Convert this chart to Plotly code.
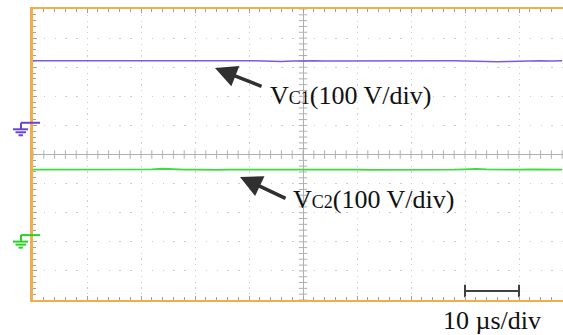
import plotly.graph_objects as go

# ---------------- data ----------------
# time axis in microseconds relative to screen centre (10 us/div)
time_us = list(range(-50, 50, 2))

# capacitor voltages (V)
vc1_volts = [213.0, 213.0, 212.0, 211.5, 211.0, 210.5, 211.0, 212.0, 213.0, 213.0,
             212.0, 212.0, 213.0, 212.0, 211.0, 211.0, 210.5, 211.0, 212.0, 213.0,
             213.5, 212.0, 211.0, 211.0, 212.0, 213.0, 213.0, 212.0, 212.0, 211.0,
             210.5, 211.0, 212.0, 213.0, 212.0, 212.0, 211.0, 212.0, 213.0, 213.5,
             212.0, 211.0, 210.5, 210.0, 211.0, 212.0, 213.0, 213.0, 212.0, 213.0]
vc2_volts = [225.0, 225.0, 225.5, 225.0, 225.0, 226.0, 226.0, 227.0, 226.0, 225.0,
             225.0, 226.0, 228.0, 226.0, 225.0, 225.0, 224.0, 224.0, 225.0, 225.0,
             226.0, 225.0, 225.0, 226.0, 226.0, 225.0, 226.0, 227.5, 226.0, 225.0,
             225.0, 224.0, 224.0, 225.0, 225.0, 224.0, 223.0, 224.0, 225.0, 225.0,
             226.0, 227.5, 226.0, 225.0, 225.0, 225.0, 226.0, 226.0, 225.0, 225.0]

volts_per_div = 100
ch1_ground_div = 1.09     # channel-1 ground marker position (div)
ch2_ground_div = -2.77    # channel-2 ground marker position (div)

scale_bar_us = [30, 40]   # one division = 10 us
scale_bar_div = -4.69

labels = ["V<span style='font-size:18px'>C1</span>(100 V/div)",
          "V<span style='font-size:18px'>C2</span>(100 V/div)"]
time_label = "10 µs/div"

# ---------------- figure ----------------
W, H = 563, 335
ML, MR, MT, MB = 33, 0, 9, 35
PW, PH = W - ML - MR, H - MT - MB
XR = [-50, -50 + PW / 54 * 10]

ch1_y = [ch1_ground_div + v / volts_per_div for v in vc1_volts]
ch2_y = [ch2_ground_div + v / volts_per_div for v in vc2_volts]

PURPLE = "#7a5ce0"
GREEN = "#3ddc3d"
GRID = "#cccccc"
CROSS = "#b0b0b0"
ORANGE = "#f3ad4c"

fig = go.Figure()

# centre crosshair tick marks
xt = [x / 5 for x in range(-250, 245, 10)]
fig.add_trace(go.Scatter(x=xt, y=[0] * len(xt), mode="markers",
                         marker=dict(symbol="line-ns", size=6,
                                     line=dict(color=CROSS, width=1)),
                         hoverinfo="skip", showlegend=False))
yt = [y / 10 for y in range(-50, 51, 2)]
fig.add_trace(go.Scatter(x=[0] * len(yt), y=yt, mode="markers",
                         marker=dict(symbol="line-ew", size=6,
                                     line=dict(color=CROSS, width=1)),
                         hoverinfo="skip", showlegend=False))

fig.add_trace(go.Scatter(x=time_us, y=ch1_y, mode="lines",
                         line=dict(color=PURPLE, width=1.5), showlegend=False))
fig.add_trace(go.Scatter(x=time_us, y=ch2_y, mode="lines",
                         line=dict(color=GREEN, width=1.8), showlegend=False))

# scale bar
fig.add_trace(go.Scatter(x=scale_bar_us, y=[scale_bar_div] * 2, mode="lines+markers",
                         line=dict(color="#404040", width=2),
                         marker=dict(symbol="line-ns", size=9,
                                     line=dict(color="#404040", width=2)),
                         showlegend=False))

# ground markers (paper coordinates derived from the channel offsets)
def gnd_shapes(gdiv, color):
    gy = (gdiv + 5) / 10
    px = lambda p: (p - ML) / PW
    dy = lambda d: d / PH
    segs = [
        (px(21), gy, px(40), gy, 2),
        (px(21), gy, px(21), gy - dy(6.5), 2),
        (px(13), gy - dy(6.5), px(28), gy - dy(6.5), 2),
        (px(15.5), gy - dy(9.5), px(26), gy - dy(9.5), 2),
        (px(18.5), gy - dy(12.5), px(23), gy - dy(12.5), 2),
    ]
    return [dict(type="line", xref="paper", yref="paper", x0=a, y0=b, x1=c, y1=d,
                 line=dict(color=color, width=w), layer="above")
            for a, b, c, d, w in segs]

shapes = gnd_shapes(ch1_ground_div, "#6a44d8") + gnd_shapes(ch2_ground_div, "#2ad02a")

serif = "Liberation Serif, Times New Roman, serif"
annotations = [
    dict(x=-16.3, y=2.97, ax=-7.4, ay=2.32, xref="x", yref="y", axref="x", ayref="y",
         text="", showarrow=True, arrowhead=2, arrowwidth=3.5, arrowsize=1.25,
         arrowcolor="#303030", standoff=0, startstandoff=0),
    dict(x=-11.67, y=-0.77, ax=-2.96, ay=-1.53, xref="x", yref="y", axref="x", ayref="y",
         text="", showarrow=True, arrowhead=2, arrowwidth=3.5, arrowsize=1.25,
         arrowcolor="#303030", standoff=0, startstandoff=0),
    dict(x=-6.4, y=2.04, xref="x", yref="y", text=labels[0], showarrow=False,
         xanchor="left", yanchor="middle", font=dict(family=serif, size=26, color="#111")),
    dict(x=-2.3, y=-1.53, xref="x", yref="y", text=labels[1], showarrow=False,
         xanchor="left", yanchor="middle", font=dict(family=serif, size=26, color="#111")),
    dict(x=35, y=(0 - 20) / PH, xref="x", yref="paper", text=time_label, showarrow=False,
         xanchor="center", yanchor="middle", font=dict(family=serif, size=26, color="#111")),
]

fig.update_layout(
    width=W, height=H,
    margin=dict(l=ML, r=MR, t=MT, b=MB, pad=0),
    paper_bgcolor="white", plot_bgcolor="white",
    showlegend=False, shapes=shapes, annotations=annotations,
    xaxis=dict(range=XR, tick0=0, dtick=10, showgrid=True, gridcolor=GRID,
               griddash="1.2px,4.6px", gridwidth=1,
               zeroline=True, zerolinecolor=CROSS, zerolinewidth=1,
               showline=True, linecolor=ORANGE, linewidth=2, mirror="ticks",
               ticks="inside", ticklen=4, tickcolor="#a0a0a0", tickwidth=1,
               minor=dict(dtick=2, ticks="inside", ticklen=3, tickcolor="#a0a0a0",
                          showgrid=False),
               showticklabels=False, fixedrange=True),
    yaxis=dict(range=[-5, 5], tick0=0, dtick=1, showgrid=True, gridcolor=GRID,
               griddash="1.4px,9.4px", gridwidth=1,
               zeroline=True, zerolinecolor=CROSS, zerolinewidth=1,
               showline=True, linecolor=ORANGE, linewidth=3, mirror=False,
               ticks="inside", ticklen=4, tickcolor="#a0a0a0", tickwidth=1,
               minor=dict(dtick=0.2, ticks="inside", ticklen=3, tickcolor="#a0a0a0",
                          showgrid=False),
               showticklabels=False, fixedrange=True),
)

fig.write_html("out.html", config={"displayModeBar": False},
               post_script="document.body.style.margin='0';document.body.style.overflow='hidden';")
